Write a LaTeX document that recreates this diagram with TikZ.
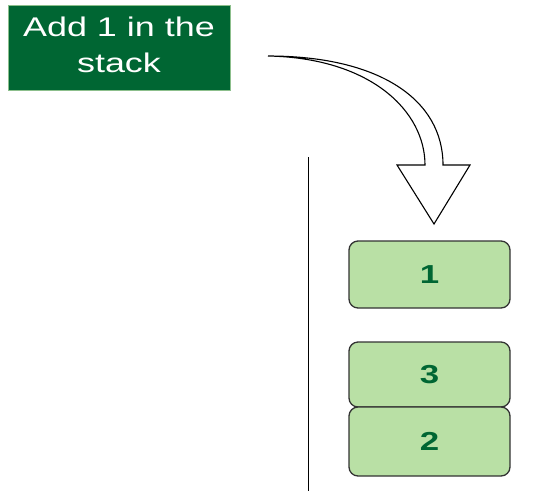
\documentclass[tikz,border=0pt]{standalone}
\usepackage{fontspec}
\setmainfont{Liberation Sans}
\usepackage{graphicx}
\definecolor{darkgreen}{HTML}{006633}
\definecolor{darkgreenline}{HTML}{8CBF8C}
\definecolor{stackfill}{HTML}{B9E0A5}
\definecolor{stackline}{HTML}{333333}
\tikzset{
  labelbox/.style={draw=darkgreenline, line width=1pt, fill=darkgreen, text=white,
    minimum width=222pt, minimum height=85pt, inner sep=0pt},
  stackbox/.style={draw=stackline, line width=1.3pt, fill=stackfill, rounded corners=9pt,
    minimum width=161pt, inner sep=0pt, text=darkgreen, font=\fontsize{26}{30}\selectfont\bfseries},
  blockarrow/.style={draw=black, line width=1.1pt, fill=white, line join=miter}
}
\newcommand{\wide}[2][1.34]{\scalebox{#1}[1]{#2}}
\begin{document}
\begin{tikzpicture}[x=1pt,y=-1pt]
\useasboundingbox (0,0) rectangle (543,491);

% caption box
\node[labelbox] (caption) at (119,47.5)
  {\fontsize{27}{36}\selectfont\wide[1.33]{\begin{tabular}{@{}c@{}}Add 1 in the\\stack\end{tabular}}};

% hollow curved push arrow
\coordinate (tail) at (268,56);
\coordinate (tip) at (434,224);
\draw[blockarrow] (tail)
  .. controls (380,56) and (443,100) .. (443,165)
  -- (470,165) -- (tip) -- (397,165) -- (425,165)
  .. controls (425,112) and (372,58) .. (tail) -- cycle;

% stack wall
\coordinate (wallTop) at (308.5,157);
\coordinate (wallBottom) at (308.5,491);
\draw[line width=1.3pt] (wallTop) -- (wallBottom);

% stack elements
\node[stackbox, minimum height=67pt] (one) at (429.5,274.5) {\wide{1}};
\node[stackbox, minimum height=65pt] (three) at (429.5,374.5) {\wide{3}};
\node[stackbox, minimum height=69pt] (two) at (429.5,441.5) {\wide{2}};
\end{tikzpicture}
\end{document}
